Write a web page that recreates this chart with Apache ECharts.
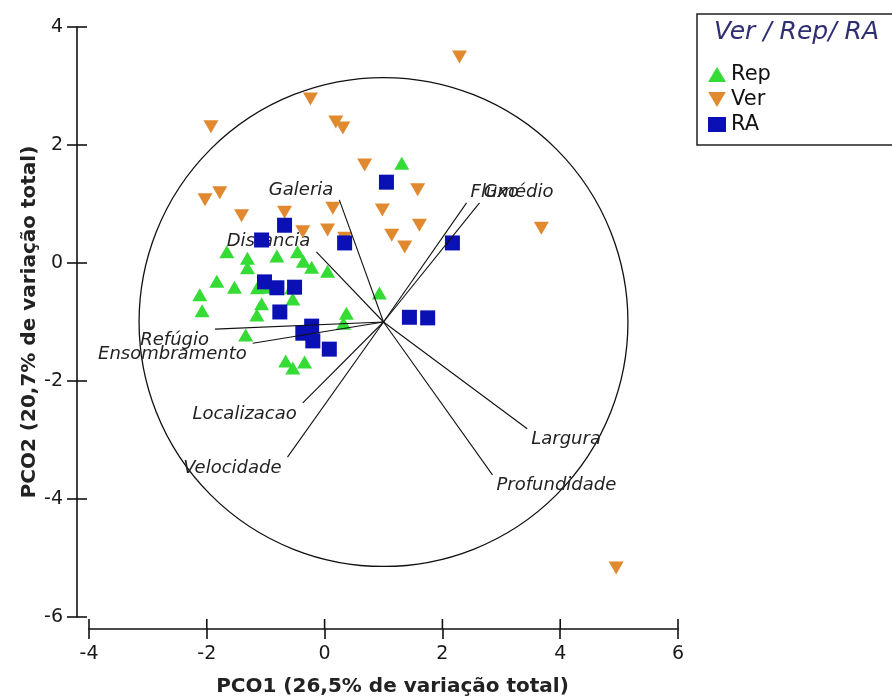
<!DOCTYPE html>
<html>
<head>
<meta charset="utf-8">
<script src="https://cdn.jsdelivr.net/npm/echarts@6/dist/echarts.min.js"></script>
<style>
html,body{margin:0;padding:0;background:#fff;}
#chart{width:892px;height:698px;}
</style>
</head>
<body>
<div id="chart"></div>
<script>
// ---- data ----
const xTickValues = [-4, -2, 0, 2, 4, 6];
const yTickValues = [-6, -4, -2, 0, 2, 4];
const xTitle = 'PCO1 (26,5% de variação total)';
const yTitle = 'PCO2 (20,7% de variação total)';
const legendTitle = 'Ver / Rep/ RA';
const seriesNames = ['Rep', 'Ver', 'RA'];

const repPoints = [
  [1.31, 1.69], [-1.66, 0.19], [-1.31, 0.08], [-1.31, -0.08], [-0.81, 0.12],
  [-0.46, 0.19], [-0.36, 0.03], [-0.22, -0.07], [0.05, -0.14], [-1.83, -0.31],
  [-2.12, -0.54], [-2.08, -0.81], [-1.14, -0.42], [-0.97, -0.41], [-0.56, -0.42],
  [-0.54, -0.61], [-1.07, -0.69], [-1.15, -0.88], [-1.34, -1.22], [0.37, -0.85],
  [0.32, -1.02], [0.93, -0.51], [-0.66, -1.66], [-0.34, -1.68], [-0.54, -1.78],
  [-1.53, -0.41]
];
const verPoints = [
  [2.29, 3.49], [-0.24, 2.78], [0.19, 2.39], [0.31, 2.29], [-1.93, 2.31],
  [-2.03, 1.07], [-1.78, 1.19], [-1.41, 0.80], [-0.68, 0.86], [-0.37, 0.53],
  [0.68, 1.66], [1.58, 1.24], [0.98, 0.90], [0.14, 0.93], [0.05, 0.56],
  [0.34, 0.42], [1.61, 0.64], [1.14, 0.47], [1.36, 0.27], [3.68, 0.59],
  [4.95, -5.17]
];
const raPoints = [
  [1.05, 1.37], [0.34, 0.34], [-0.68, 0.64], [-1.07, 0.39], [2.17, 0.34],
  [-1.02, -0.32], [-0.81, -0.42], [-0.51, -0.41], [-0.76, -0.83], [-0.22, -1.07],
  [-0.37, -1.19], [-0.20, -1.32], [0.08, -1.46], [1.44, -0.92], [1.75, -0.93]
];

const vectorOrigin = [1, -1];
const circleRadius = 4.15;
const vectorNames = ['Galeria', 'Distancia', 'Refúgio', 'Ensombramento', 'Localizacao',
  'Velocidade', 'Largura', 'Profundidade', 'Fluxo', 'Gmédio'];
const vectorEnds = [
  [0.25, 1.07], [-0.14, 0.19], [-1.86, -1.12], [-1.22, -1.36], [-0.37, -2.37],
  [-0.63, -3.29], [3.44, -2.81], [2.85, -3.59], [2.41, 1.02], [2.63, 1.02]
];

// ---- chart ----
const chart = echarts.init(document.getElementById('chart'), null, {renderer: 'canvas'});

const xMin = xTickValues[0], xMax = xTickValues[xTickValues.length - 1];
const yMin = yTickValues[0], yMax = yTickValues[yTickValues.length - 1];
const xInt = xTickValues[1] - xTickValues[0];
const yInt = yTickValues[1] - yTickValues[0];

const FONT = '"DejaVu Sans", "Liberation Sans", sans-serif';
const lineColor = '#111';
const AXIS_OFFSET = 12;
const TICK_LEN = 10;

const option = {
  animation: false,
  backgroundColor: '#fff',
  grid: {left: 89, right: 214, top: 27, bottom: 81, containLabel: false, outerBoundsMode: 'none'},
  xAxis: {
    type: 'value', position: 'bottom', offset: AXIS_OFFSET,
    min: xMin, max: xMax, interval: xInt,
    splitLine: {show: false},
    axisLine: {show: true, onZero: false, lineStyle: {color: lineColor, width: 1.6}},
    axisTick: {show: true, length: TICK_LEN, lineStyle: {color: lineColor, width: 1.6}},
    axisLabel: {margin: 16, fontFamily: FONT, fontSize: 19, color: '#1a1a1a'},
    name: xTitle, nameLocation: 'middle', nameGap: 48, nameMoveOverlap: false,
    nameTextStyle: {fontFamily: FONT, fontWeight: 'bold', fontSize: 20, color: '#222', padding: [0, 0, 0, 18]}
  },
  yAxis: {
    type: 'value', position: 'left', offset: AXIS_OFFSET,
    min: yMin, max: yMax, interval: yInt,
    splitLine: {show: false},
    axisLine: {show: true, onZero: false, lineStyle: {color: lineColor, width: 1.6}},
    axisTick: {show: true, length: TICK_LEN, lineStyle: {color: lineColor, width: 1.6}},
    axisLabel: {margin: 14, fontFamily: FONT, fontSize: 19, color: '#1a1a1a'},
    name: yTitle, nameLocation: 'middle', nameGap: 37, nameMoveOverlap: false,
    nameTextStyle: {fontFamily: FONT, fontWeight: 'bold', fontSize: 20, color: '#222'}
  },
  legend: {
    data: seriesNames,
    orient: 'vertical',
    left: 703, top: 59,
    itemWidth: 18, itemHeight: 15, itemGap: 4,
    textStyle: {fontFamily: FONT, fontSize: 21, color: '#111'},
    selectedMode: false
  },
  graphic: [
    {type: 'rect', shape: {x: 697, y: 14, width: 220, height: 131},
     style: {fill: 'none', stroke: '#222', lineWidth: 1.5}, z: 10},
    {type: 'text', x: 714, y: 32,
     style: {text: legendTitle, fontFamily: FONT, fontStyle: 'italic', fontSize: 25,
             fill: '#2e2e70', verticalAlign: 'middle', align: 'left'}, z: 10}
  ],
  series: [
    {
      // inner halves of x-axis ticks (ticks cross the axis line)
      type: 'custom', name: 'xInnerTicks', silent: true, clip: false, z: 5,
      data: xTickValues.map(v => [v, yMin]),
      renderItem: function (params, api) {
        const p = api.coord([api.value(0), api.value(1)]);
        const yLine = p[1] + AXIS_OFFSET;
        return {type: 'line', shape: {x1: p[0], y1: yLine, x2: p[0], y2: yLine - TICK_LEN},
                style: {stroke: lineColor, lineWidth: 1.6}};
      }
    },
    {
      type: 'custom', name: 'yInnerTicks', silent: true, clip: false, z: 5,
      data: yTickValues.map(v => [xMin, v]),
      renderItem: function (params, api) {
        const p = api.coord([api.value(0), api.value(1)]);
        const xLine = p[0] - AXIS_OFFSET;
        return {type: 'line', shape: {x1: xLine, y1: p[1], x2: xLine + TICK_LEN, y2: p[1]},
                style: {stroke: lineColor, lineWidth: 1.6}};
      }
    },
    {
      type: 'custom', name: 'circle', silent: true, z: 1,
      data: [vectorOrigin],
      renderItem: function (params, api) {
        const c = api.coord([api.value(0), api.value(1)]);
        const r = api.size([circleRadius, 0])[0];
        return {type: 'circle', shape: {cx: c[0], cy: c[1], r: r},
                style: {fill: 'none', stroke: '#111', lineWidth: 1.3}};
      }
    },
    {
      type: 'custom', name: 'vectorLabels', silent: true, z: 2,
      data: vectorEnds,
      renderItem: function (params, api) {
        const o = api.coord(vectorOrigin);
        const e = api.coord([api.value(0), api.value(1)]);
        const left = e[0] < o[0];
        const up = e[1] < o[1];
        return {
          type: 'text',
          x: e[0] + (left ? -6 : 4),
          y: e[1] + (up ? -1 : 2),
          style: {text: vectorNames[params.dataIndex], fontFamily: FONT, fontStyle: 'italic',
                  fontSize: 18, fill: '#222', align: left ? 'right' : 'left',
                  verticalAlign: up ? 'bottom' : 'top'}
        };
      }
    },
    {
      type: 'scatter', name: 'Rep', data: repPoints, z: 3,
      symbol: 'triangle', symbolSize: [15, 13],
      itemStyle: {color: '#35dc35', opacity: 1}
    },
    {
      type: 'scatter', name: 'Ver', data: verPoints, z: 3,
      symbol: 'path://M0,0L2,0L1,1.7Z', symbolSize: [15, 13],
      itemStyle: {color: '#e0892f', opacity: 1}
    },
    {
      type: 'scatter', name: 'RA', data: raPoints, z: 3,
      symbol: 'rect', symbolSize: 15,
      itemStyle: {color: '#0a10b4', opacity: 1}
    },
    {
      type: 'custom', name: 'vectorLines', silent: true, z: 4,
      data: vectorEnds,
      renderItem: function (params, api) {
        const o = api.coord(vectorOrigin);
        const e = api.coord([api.value(0), api.value(1)]);
        return {type: 'line', shape: {x1: o[0], y1: o[1], x2: e[0], y2: e[1]},
                style: {stroke: '#111', lineWidth: 1.1}};
      }
    }
  ]
};
chart.setOption(option);
</script>
</body>
</html>
